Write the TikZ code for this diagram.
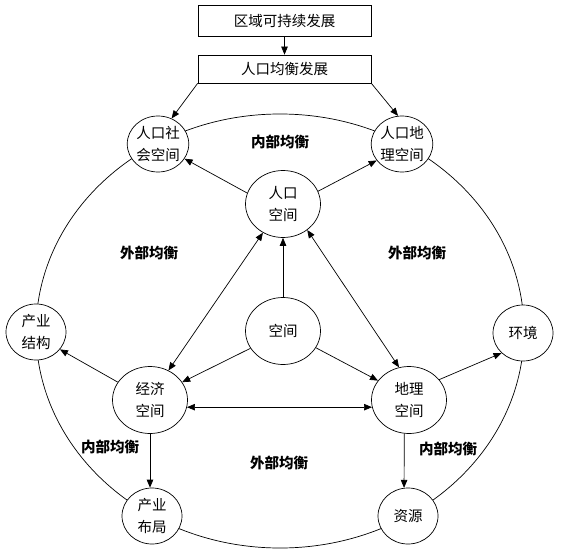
\documentclass[tikz,border=0pt]{standalone}
\usepackage{fontspec}
\setmainfont{Noto Sans CJK SC}
\usetikzlibrary{arrows.meta,shapes.geometric,calc}

\begin{document}
\begin{tikzpicture}[x=1pt, y=-1pt, line width=0.7pt,
    every node/.style={font=\fontsize{14.5}{22}\selectfont},
    goalbox/.style={draw, rectangle, minimum width=173pt, inner sep=0pt},
    bigsp/.style={draw, ellipse, fill=white, minimum width=75pt, minimum height=67pt, inner sep=0pt, align=center},
    smallsp/.style={draw, ellipse, fill=white, minimum width=60pt, minimum height=56pt, inner sep=0pt, align=center},
    balance/.style={font=\fontsize{14.5}{17}\selectfont\bfseries},
    arr/.style={-{Triangle[length=8pt,width=6.5pt]}},
    darr/.style={{Triangle[length=8pt,width=6.5pt]}-{Triangle[length=8pt,width=6.5pt]}}]
  \useasboundingbox (0,0) rectangle (561,553);
  % outer ring
  \draw (280,331) ellipse [x radius=244, y radius=217];
  \node[goalbox, minimum height=31pt] (goal) at (284.5,20.5) {区域可持续发展};
  \node[goalbox, minimum height=28pt] (pop) at (284.5,69) {人口均衡发展};
  \node[bigsp] (rk) at (283,204) {人口\\空间};
  \node[bigsp] (kj) at (283,331) {空间};
  \node[bigsp] (jj) at (150,400) {经济\\空间};
  \node[bigsp] (dl) at (409,400) {地理\\空间};
  \node[smallsp] (rs) at (158,144) {人口社\\会空间};
  \node[smallsp] (rd) at (402,144) {人口地\\理空间};
  \node[smallsp] (cj) at (36,332) {产业\\结构};
  \node[smallsp] (cb) at (152,516) {产业\\布局};
  \node[smallsp] (hj) at (523,333) {环境};
  \node[smallsp] (zy) at (408,516) {资源};
  % balance labels
  \node[balance] (inTop) at (280,142) {内部均衡};
  \node[balance] (outL) at (149,253) {外部均衡};
  \node[balance] (outR) at (417,253) {外部均衡};
  \node[balance] (inL) at (110,447) {内部均衡};
  \node[balance] (outB) at (279,463) {外部均衡};
  \node[balance] (inR) at (448,449) {内部均衡};
  % connectors
  \draw[arr] (goal) -- (pop);
  \draw[arr] (pop.south west) -- (rs.62);
  \draw[arr] (pop.south east) -- (rd.98);
  \draw[arr] (rk.163) -- (rs.331);
  \draw[arr] (rk.20) -- (rd.213);
  \draw[arr] (kj) -- (rk);
  \draw[darr] (rk.235) -- (jj.58);
  \draw[darr] (rk.313) -- (dl.107);
  \draw[arr] (kj.208) -- (jj.29);
  \draw[arr] (kj.333) -- (dl.148);
  \draw[darr] (jj.-11) -- (dl.191);
  \draw[arr] (jj.151) -- (cj.324);
  \draw[arr] (dl.34) -- (hj.223);
  \draw[arr] (jj.south) -- (jj.south |- cb.north);
  \draw[arr] (dl.262) -- (zy.98);
\end{tikzpicture}
\end{document}
